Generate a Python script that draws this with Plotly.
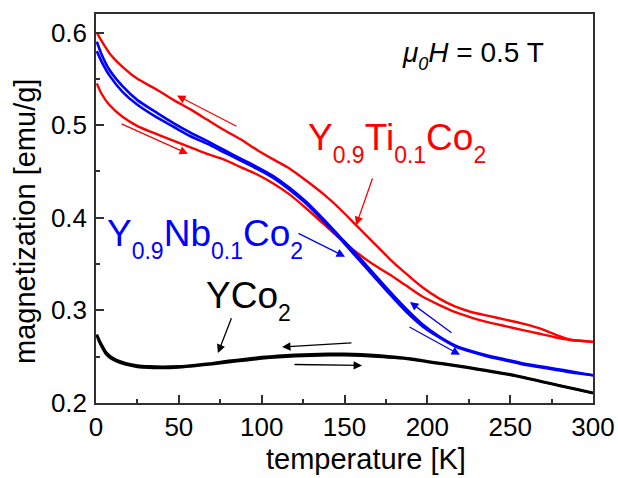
import plotly.graph_objects as go

# ---------------- data ----------------
T_red = [0.5, 3, 8, 16, 25, 37, 47, 57, 67, 77, 87, 97, 107, 117, 127, 137, 147, 157,
         167, 177, 187, 197, 207, 217, 227, 237, 247, 257, 267, 277, 287, 294, 300]
M_red_cool = [0.600, 0.592, 0.578, 0.563, 0.550, 0.538, 0.527, 0.517, 0.506, 0.495, 0.485,
              0.4735, 0.463, 0.453, 0.440, 0.426, 0.410, 0.392, 0.374, 0.356, 0.340, 0.325,
              0.313, 0.304, 0.298, 0.294, 0.290, 0.286, 0.281, 0.274, 0.268, 0.267, 0.266]
M_red_warm = [0.545, 0.535, 0.522, 0.509, 0.499, 0.490, 0.483, 0.476, 0.469, 0.463, 0.455,
              0.447, 0.437, 0.425, 0.410, 0.394, 0.378, 0.363, 0.350, 0.339, 0.327, 0.315,
              0.306, 0.298, 0.292, 0.287, 0.283, 0.279, 0.275, 0.271, 0.268, 0.267, 0.266]

T_blue = [0.5, 3, 8, 16, 25, 37, 47, 57, 67, 77, 87, 97, 107, 117, 127, 137, 147, 157,
          167, 177, 187, 197, 207, 217, 227, 237, 247, 257, 267, 277, 287, 300]
M_blue_cool = [0.590, 0.578, 0.560, 0.542, 0.527, 0.513, 0.502, 0.492, 0.483, 0.4735, 0.464,
               0.455, 0.445, 0.432, 0.417, 0.399, 0.380, 0.361, 0.341, 0.321, 0.302, 0.285,
               0.272, 0.262, 0.256, 0.251, 0.247, 0.243, 0.240, 0.237, 0.234, 0.230]
M_blue_warm = [0.580, 0.570, 0.554, 0.536, 0.522, 0.508, 0.498, 0.488, 0.480, 0.471, 0.462,
               0.453, 0.443, 0.430, 0.415, 0.397, 0.378, 0.358, 0.338, 0.318, 0.299, 0.283,
               0.271, 0.261, 0.255, 0.250, 0.246, 0.242, 0.239, 0.236, 0.233, 0.230]

T_black = [0.5, 2, 4, 6, 9, 13, 18, 25, 32, 40, 50, 60, 70, 80, 90, 100, 110, 120, 130,
           140, 150, 160, 170, 180, 190, 200, 210, 220, 230, 240, 250, 260, 270, 280, 290, 300]
M_black_cool = [0.274, 0.268, 0.261, 0.255, 0.250, 0.246, 0.243, 0.2405, 0.2395, 0.239,
                0.2395, 0.241, 0.243, 0.2455, 0.2475, 0.2495, 0.251, 0.252, 0.2525, 0.253,
                0.253, 0.2525, 0.2515, 0.250, 0.248, 0.245, 0.2425, 0.240, 0.237, 0.234,
                0.231, 0.227, 0.223, 0.219, 0.215, 0.211]
M_black_warm = [0.273, 0.266, 0.259, 0.253, 0.248, 0.2445, 0.2415, 0.239, 0.238, 0.2378,
                0.2385, 0.240, 0.242, 0.244, 0.246, 0.248, 0.2495, 0.2505, 0.251, 0.2515,
                0.2515, 0.251, 0.250, 0.2488, 0.247, 0.2443, 0.2418, 0.2393, 0.2363, 0.2333,
                0.2303, 0.2265, 0.2225, 0.2185, 0.2145, 0.2105]

# arrows: (tail T, tail M, head T, head M, colour)
arrows = [
    (85.7, 0.498, 48.9, 0.532, "red"),
    (14.5, 0.502, 55.5, 0.469, "red"),
    (167.2, 0.444, 157.0, 0.392, "red"),
    (121.3, 0.384, 150.3, 0.358, "blue"),
    (215.5, 0.2746, 189.5, 0.309, "blue"),
    (188.3, 0.283, 219.7, 0.252, "blue"),
    (155.1, 0.265, 112.3, 0.2605, "black"),
    (118.9, 0.2416, 160.6, 0.2405, "black"),
    (82.1, 0.293, 73.6, 0.254, "black"),
]

x_ticks = [0, 50, 100, 150, 200, 250, 300]
y_ticks = [0.2, 0.3, 0.4, 0.5, 0.6]

FONT = "Liberation Sans, Arial, sans-serif"
RED = "#ff0000"
BLUE = "#0000ff"
BLACK = "#000000"


def sub(s, size=23, shift=5, italic=False):
    inner = f'<span style="font-size:{size}px;baseline-shift:-{shift}px">{s}</span>'
    if italic:
        inner = f"<i>{inner}</i>"
    return f"<sub>{inner}</sub>"


fig = go.Figure()

for T, M, c, w in [
    (T_black, M_black_warm, BLACK, 2.6), (T_black, M_black_cool, BLACK, 2.6),
    (T_red, M_red_warm, RED, 2.4), (T_red, M_red_cool, RED, 2.4),
    (T_blue, M_blue_warm, BLUE, 2.6), (T_blue, M_blue_cool, BLUE, 2.6),
]:
    fig.add_trace(go.Scatter(x=T, y=M, mode="lines",
                             line=dict(color=c, width=w, shape="spline", smoothing=0.6),
                             showlegend=False, hoverinfo="skip"))

for tx, ty, hx, hy, c in arrows:
    fig.add_annotation(x=hx, y=hy, ax=tx, ay=ty, xref="x", yref="y", axref="x", ayref="y",
                       text="", showarrow=True, arrowhead=2, arrowsize=1.3,
                       arrowwidth=1.3, arrowcolor=c, standoff=0)

labels = [
    ("Y" + sub("0.9") + "Ti" + sub("0.1") + "Co" + sub("2"), 181.8, 0.481, RED, 37),
    ("Y" + sub("0.9") + "Nb" + sub("0.1") + "Co" + sub("2"), 65.5, 0.378, BLUE, 37),
    ("YCo" + sub("2"), 92.0, 0.311, BLACK, 37),
    ("<i>μ</i>" + sub("0", size=18, shift=2, italic=True) + "<i>H</i> = 0.5 T",
     227.3, 0.575, BLACK, 28),
]
for txt, x, y, c, fs in labels:
    fig.add_annotation(x=x, y=y, xref="x", yref="y", text=txt, showarrow=False,
                       xanchor="center", yanchor="middle",
                       font=dict(family=FONT, size=fs, color=c))

# axis titles
fig.add_annotation(x=0.543, y=-0.1452, xref="paper", yref="paper",
                   text="temperature [K]", showarrow=False, xanchor="center", yanchor="middle",
                   font=dict(family=FONT, size=29, color=BLACK))
fig.add_annotation(x=-0.1429, y=0.468, xref="paper", yref="paper",
                   text="magnetization [emu/g]", showarrow=False, textangle=-90,
                   xanchor="center", yanchor="middle",
                   font=dict(family=FONT, size=29, color=BLACK))

axis_common = dict(showline=True, linecolor="#303030", linewidth=1.5, mirror=True,
                   ticks="inside", ticklen=8, tickwidth=1.5, tickcolor="#303030",
                   showgrid=False, zeroline=False, automargin=False,
                   tickfont=dict(family=FONT, size=26, color=BLACK))

fig.update_xaxes(range=[0, 300], tickvals=x_ticks, ticktext=[str(v) for v in x_ticks],
                 minor=dict(ticks="inside", ticklen=4, dtick=25, tickwidth=1.5,
                            tickcolor="#303030"),
                 ticklabelstandoff=0, **axis_common)
fig.update_yaxes(range=[0.2, 0.62], tickvals=y_ticks, ticktext=[f"{v:.1f}" for v in y_ticks],
                 minor=dict(ticks="inside", ticklen=4, dtick=0.05, tickwidth=1.5,
                            tickcolor="#303030"),
                 ticklabelstandoff=2, **axis_common)

fig.update_layout(width=618, height=478, margin=dict(l=96, r=25, t=14, b=75, autoexpand=False),
                  paper_bgcolor="white", plot_bgcolor="white",
                  font=dict(family=FONT))

fig.write_html("out.html")
